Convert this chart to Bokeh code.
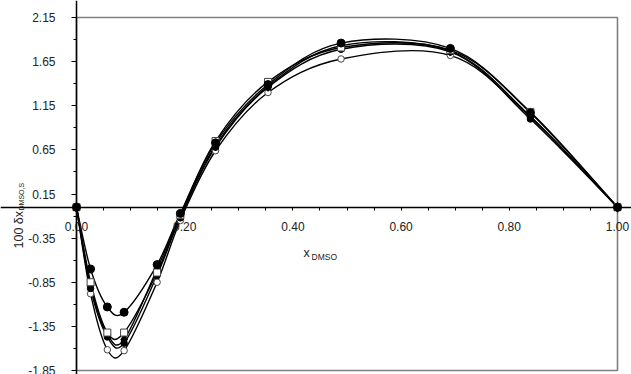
import numpy as np
from bokeh.plotting import figure
from bokeh.models import LinearAxis, FixedTicker, PrintfTickFormatter, Range1d, Label, ColumnDataSource
from bokeh.embed import file_html
from bokeh.resources import INLINE

# ---- data ----
x_dmso = [0.0, 0.026, 0.057, 0.088, 0.149, 0.192, 0.257, 0.354, 0.489, 0.691, 0.839, 1.0]
s_a = [0.0, -0.70, -1.13, -1.19, -0.65, -0.07, 0.73, 1.39, 1.86, 1.80, 1.07, 0.0]   # filled circle
s_b = [0.0, -0.85, -1.42, -1.42, -0.74, -0.09, 0.75, 1.42, 1.81, 1.78, 1.08, 0.0]   # open square
s_c = [0.0, -0.89, -1.44, -1.50, -0.70, -0.10, 0.70, 1.37, 1.83, 1.77, 1.03, 0.0]   # filled diamond
s_d = [0.0, -0.92, -1.47, -1.54, -0.77, -0.12, 0.68, 1.36, 1.79, 1.76, 1.00, 0.0]   # filled circle (small)
s_e = [0.0, -0.98, -1.615, -1.625, -0.85, -0.15, 0.64, 1.30, 1.68, 1.72, 1.02, 0.0] # open circle

y_ticks = [-1.85, -1.35, -0.85, -0.35, 0.15, 0.65, 1.15, 1.65, 2.15]
y_minor = [-1.60, -1.10, -0.60, -0.10, 0.40, 0.90, 1.40, 1.90]
x_ticks = [0.0, 0.2, 0.4, 0.6, 0.8, 1.0]
x_minor = [0.05, 0.10, 0.15, 0.25, 0.30, 0.35, 0.45, 0.50, 0.55, 0.65, 0.70, 0.75, 0.85, 0.90, 0.95]

FONT = "Liberation Sans"
TXT = "#222222"

# ---- layout: canvas size and where the plot box sits on it (pixels) ----
W, H = 631, 374
FL, FR, FT, FB = 76, 617, 17, 370
x_lo, x_hi = x_ticks[0], x_ticks[-1]
y_lo, y_hi = y_ticks[0], y_ticks[-1]
sx = (FR - FL) / (x_hi - x_lo)
sy = (FB - FT) / (y_hi - y_lo)
x_range = Range1d(x_lo - FL / sx, x_hi + (W - FR) / sx)
y_range = Range1d(y_lo - (H - FB) / sy, y_hi + FT / sy)


def px_x(px):
    return x_lo + (px - FL) / sx


def px_y(py):
    return y_hi - (py - FT) / sy


p = figure(width=W, height=H, x_range=x_range, y_range=y_range, title=None,
           output_backend="svg", toolbar_location=None,
           x_axis_location=None, y_axis_location=None,
           min_border=0, min_border_left=0, min_border_right=0, min_border_top=0, min_border_bottom=0)
p.xgrid.visible = False
p.ygrid.visible = False
p.outline_line_color = None
p.background_fill_color = "white"
p.border_fill_color = "white"

# plot-area border (gray)
p.quad(left=[x_lo], right=[x_hi], bottom=[y_lo], top=[y_hi], fill_color=None,
       line_color="#808080", line_width=1.6)

yax = LinearAxis(ticker=FixedTicker(ticks=y_ticks, minor_ticks=y_minor),
                 formatter=PrintfTickFormatter(format="%.2f"), fixed_location=x_lo)
yax.axis_line_color = "black"
yax.axis_line_width = 1.5
yax.major_tick_out = 5
yax.major_tick_in = 0
yax.minor_tick_out = 3
yax.minor_tick_in = 0
yax.major_tick_line_color = "black"
yax.minor_tick_line_color = "black"
yax.major_label_standoff = 16
yax.major_label_text_font = FONT
yax.major_label_text_font_size = "12px"
yax.major_label_text_color = TXT
p.add_layout(yax, "left")

xax = LinearAxis(ticker=FixedTicker(ticks=x_ticks, minor_ticks=x_minor),
                 formatter=PrintfTickFormatter(format="%.2f"), fixed_location=0)
xax.axis_line_color = "black"
xax.axis_line_width = 1.5
xax.major_tick_out = 3
xax.major_tick_in = 0
xax.minor_tick_out = 3
xax.minor_tick_in = 0
xax.major_tick_line_color = "black"
xax.minor_tick_line_color = "black"
xax.major_label_standoff = 12
xax.major_label_text_font = FONT
xax.major_label_text_font_size = "12px"
xax.major_label_text_color = TXT
p.add_layout(xax, "below")


def smooth_segments(xs, ys):
    """Bezier control points as used by smoothed spreadsheet lines."""
    P = np.column_stack([xs, ys]).astype(float)
    n = len(P)
    d = dict(x0=[], y0=[], x1=[], y1=[], cx0=[], cy0=[], cx1=[], cy1=[])
    for i in range(n - 1):
        pm = P[max(i - 1, 0)]
        p0 = P[i]
        p1 = P[i + 1]
        p2 = P[min(i + 2, n - 1)]
        c0 = p0 + (p1 - pm) / 6.0
        c1 = p1 - (p2 - p0) / 6.0
        d["x0"].append(p0[0]); d["y0"].append(p0[1])
        d["x1"].append(p1[0]); d["y1"].append(p1[1])
        d["cx0"].append(c0[0]); d["cy0"].append(c0[1])
        d["cx1"].append(c1[0]); d["cy1"].append(c1[1])
    return ColumnDataSource(d)


series = [s_a, s_b, s_c, s_d, s_e]
for s in series:
    p.bezier(x0="x0", y0="y0", x1="x1", y1="y1", cx0="cx0", cy0="cy0", cx1="cx1", cy1="cy1",
             source=smooth_segments(x_dmso, s), line_color="black", line_width=1.4)

p.scatter(x_dmso, s_e, marker="circle", size=6.5, fill_color="white", line_color="#444444", line_width=1)
p.scatter(x_dmso, s_d, marker="circle", size=6.5, fill_color="black", line_color="black")
p.scatter(x_dmso, s_c, marker="diamond", size=10, fill_color="black", line_color="black")
p.scatter(x_dmso, s_b, marker="square", size=7, fill_color="white", line_color="#444444", line_width=1)
p.scatter(x_dmso, s_a, marker="circle", size=8, fill_color="black", line_color="black")

# axis titles (with subscripts)
p.add_layout(Label(x=px_x(303), y=px_y(252), text="x", text_font=FONT, text_font_size="12.5px",
                   text_color=TXT, text_baseline="alphabetic", text_align="left"))
p.add_layout(Label(x=px_x(311), y=px_y(256), text="DMSO", text_font=FONT, text_font_size="8.5px",
                   text_color=TXT, text_baseline="alphabetic", text_align="left"))
p.add_layout(Label(x=px_x(18), y=px_y(248), text="100 δx", text_font=FONT, text_font_size="12.5px",
                   text_color=TXT, text_baseline="alphabetic", text_align="left",
                   angle=np.pi / 2))
p.add_layout(Label(x=px_x(21), y=px_y(210), text="DMSO,S", text_font=FONT, text_font_size="7px",
                   text_color=TXT, text_baseline="alphabetic", text_align="left",
                   angle=np.pi / 2))

open("out.html", "w").write(file_html(p, INLINE))
